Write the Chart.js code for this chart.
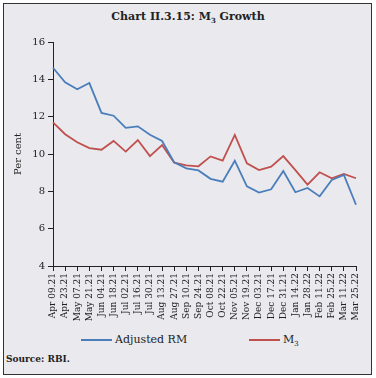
<!DOCTYPE html>
<html>
<head>
<meta charset="utf-8">
<script src="https://cdn.jsdelivr.net/npm/chart.js@4/dist/chart.umd.min.js"></script>
<style>
  body { margin: 0; background: #fff; }
  #box { position: absolute; left: 3px; top: 3px; width: 367px; height: 370px; border: 1px solid #333; background: #e9e9ee; }
  #title { position: absolute; left: 0; top: 10px; width: 376px; text-align: center; font: bold 11px "DejaVu Serif"; color: #222; }
  #chart { position: absolute; left: 4px; top: 30px; }
  .leg { position: absolute; top: 333px; font: 11px "DejaVu Serif"; color: #222; }
  .leg i { display: inline-block; width: 31px; height: 2px; vertical-align: middle; margin-right: 3px; }
  #src { position: absolute; left: 6px; top: 354px; font: bold 9px "DejaVu Serif"; color: #222; }
  sub { font-size: 7px; }
</style>
</head>
<body>
<div id="box"></div>
<div id="title">Chart II.3.15: M<sub>3</sub> Growth</div>
<canvas id="chart" width="368" height="300"></canvas>
<div class="leg" style="left:81px"><i style="background:#4a7ebb"></i>Adjusted RM</div>
<div class="leg" style="left:249px"><i style="background:#c0504d"></i>M<sub>3</sub></div>
<div id="src">Source: RBI.</div>
<script>
var labels = ['Apr 09.21', 'Apr 23.21', 'May 07.21', 'May 21.21', 'Jun 04.21', 'Jun 18.21', 'Jul 02.21', 'Jul 16.21',
  'Jul 30.21', 'Aug 13.21', 'Aug 27.21', 'Sep 10.21', 'Sep 24.21', 'Oct 08.21', 'Oct 22.21', 'Nov 05.21',
  'Nov 19.21', 'Dec 03.21', 'Dec 17.21', 'Dec 31.21', 'Jan 14.22', 'Jan 28.22', 'Feb 11.22', 'Feb 25.22',
  'Mar 11.22', 'Mar 25.22'];
var adjustedRM = [14.62, 13.84, 13.47, 13.8, 12.2, 12.05, 11.4, 11.48, 11.03, 10.7, 9.55, 9.23, 9.12, 8.67,
  8.52, 9.64, 8.27, 7.93, 8.11, 9.09, 7.95, 8.18, 7.73, 8.61, 8.88, 7.28];
var m3 = [11.7, 11.06, 10.63, 10.32, 10.23, 10.7, 10.13, 10.75, 9.89, 10.48, 9.54, 9.39, 9.34, 9.87,
  9.64, 11.02, 9.5, 9.14, 9.32, 9.89, 9.14, 8.36, 9.02, 8.7, 8.93, 8.7];

var ctx = document.getElementById('chart').getContext('2d');
var myChart = new Chart(ctx, {
  type: 'line',
  data: {
    labels: labels,
    datasets: [{
      label: 'Adjusted RM',
      data: adjustedRM,
      borderColor: '#4a7ebb',
      borderWidth: 1.8,
      pointRadius: 0,
      tension: 0
    }, {
      label: 'M3',
      data: m3,
      borderColor: '#c0504d',
      borderWidth: 1.8,
      pointRadius: 0,
      tension: 0
    }]
  },
  options: {
    responsive: false,
    animation: false,
    layout: { padding: { top: 12, right: 16, left: 0, bottom: 0 } },
    plugins: { legend: { display: false }, tooltip: { enabled: false } },
    scales: {
      x: {
        offset: false,
        grid: { display: true, drawOnChartArea: false, drawTicks: true, tickLength: 5, color: '#222' },
        border: { display: true, color: '#222', width: 1 },
        ticks: { minRotation: 90, maxRotation: 90, autoSkip: false, padding: 2, color: '#222',
          font: { family: 'DejaVu Serif', size: 9 } },
        afterFit: function (scale) { scale.height = 64; }
      },
      y: {
        min: 4,
        max: 16,
        ticks: { stepSize: 2, padding: 3, color: '#222', font: { family: 'DejaVu Serif', size: 10 } },
        grid: { display: true, drawOnChartArea: false, drawTicks: true, tickLength: 5, color: '#222' },
        border: { display: true, color: '#222', width: 1 },
        title: { display: true, text: 'Per cent', color: '#222', padding: { top: 8, bottom: 0 },
          font: { family: 'DejaVu Serif', size: 10 } },
        afterFit: function (scale) { scale.width = 49; }
      }
    }
  }
});
</script>
</body>
</html>
